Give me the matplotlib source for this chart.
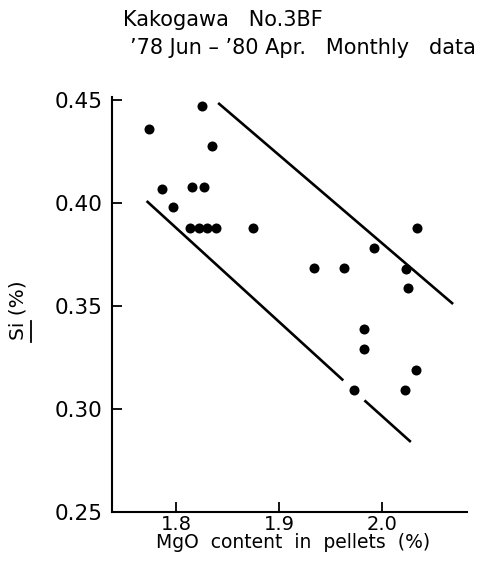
import matplotlib
matplotlib.use("Agg")
import matplotlib.pyplot as plt
from matplotlib.lines import Line2D

# Monthly data, Kakogawa No.3 BF ('78 Jun - '80 Apr)
mgo = [1.825, 1.774, 1.835, 1.787, 1.8155, 1.827, 1.797,
       1.8136, 1.8223, 1.830, 1.8385, 1.875,
       2.034, 1.992, 1.934, 1.963, 2.023, 2.025,
       1.983, 1.983, 2.033, 1.973, 2.022]
si = [0.447, 0.436, 0.4275, 0.407, 0.408, 0.408, 0.398,
      0.388, 0.388, 0.388, 0.388, 0.388,
      0.388, 0.378, 0.3687, 0.3684, 0.368, 0.359,
      0.339, 0.329, 0.319, 0.309, 0.309]

# Band limits drawn as straight lines
upper_x = [1.841, 2.069]
upper_y = [0.4486, 0.351]
lower_x1 = [1.7716, 1.9624]
lower_y1 = [0.401, 0.3139]
lower_x2 = [1.983, 2.028]
lower_y2 = [0.3042, 0.284]

xticks = [1.8, 1.9, 2.0]
xticklabels = ["1.8", "1.9", "2.0"]
yticks = [0.25, 0.30, 0.35, 0.40, 0.45]
yticklabels = ["0.25", "0.30", "0.35", "0.40", "0.45"]

plt.rcParams["font.family"] = ["DejaVu Sans"]

fig = plt.figure(figsize=(4.85, 5.8), dpi=100)
ax = fig.add_axes([112 / 485, 68 / 580, 355 / 485, 415 / 580])

ax.scatter(mgo, si, s=52, color="black", zorder=3, linewidths=0)
ax.plot(upper_x, upper_y, color="black", lw=1.9, solid_capstyle="butt")
ax.plot(lower_x1, lower_y1, color="black", lw=1.9, solid_capstyle="butt")
ax.plot(lower_x2, lower_y2, color="black", lw=1.9, solid_capstyle="butt")

ax.set_xlim(1.738, 2.0825)
ax.set_ylim(0.25, 0.4515)
ax.spines["top"].set_visible(False)
ax.spines["right"].set_visible(False)
for sp in ("left", "bottom"):
    ax.spines[sp].set_linewidth(1.5)

ax.set_xticks(xticks)
ax.set_xticklabels(xticklabels)
ax.set_yticks(yticks)
ax.set_yticklabels(yticklabels)
ax.tick_params(axis="both", direction="in", length=7, width=1.3, color="black")
ax.tick_params(axis="y", labelsize=15.5, pad=7)
ax.tick_params(axis="x", labelsize=14, pad=2)

# Titles
fig.text(123 / 485, 1 - 20 / 580, "Kakogawa   No.3BF", fontsize=15,
         ha="left", va="center")
fig.text(130 / 485, 1 - 48.5 / 580,
         "\u201978 Jun \u2013 \u201980 Apr.   Monthly   data",
         fontsize=15, ha="left", va="center")

# Axis labels
fig.text(293 / 485, 1 - 542 / 580, "MgO  content  in  pellets  (%)", fontsize=13.5,
         ha="center", va="center")
fig.text(18.5 / 485, 1 - 310 / 580, "Si (%)", fontsize=14.5, rotation=90,
         ha="center", va="center")
# underline beneath "Si"
fig.add_artist(Line2D([31 / 485, 31 / 485], [1 - 342 / 580, 1 - 321 / 580],
                      color="black", lw=1.3, transform=fig.transFigure))

fig.savefig("out.png", dpi=100)
